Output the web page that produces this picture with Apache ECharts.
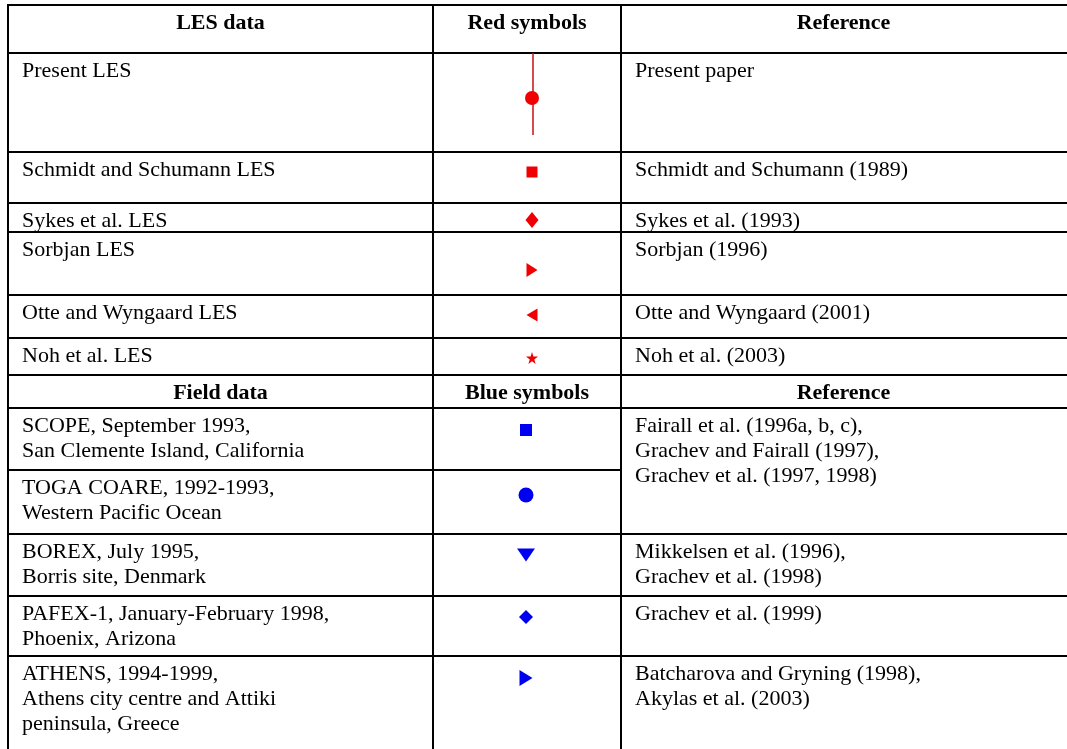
<!DOCTYPE html>
<html><head><meta charset="utf-8">
<script src="https://cdn.jsdelivr.net/npm/echarts@6/dist/echarts.min.js"></script>
<style>html,body{margin:0;padding:0;background:#fff;}#c{width:1067px;height:749px;}</style>
</head><body><div id="c"></div>
<script>
// ---------------- data ----------------
const lesHeader = ['LES data', 'Red symbols', 'Reference'];
const lesData = ['Present LES', 'Schmidt and Schumann LES', 'Sykes et al. LES', 'Sorbjan LES', 'Otte and Wyngaard LES', 'Noh et al. LES'];
const redSymbols = ['circle-bar', 'square', 'diamond', 'triangle-right', 'triangle-left', 'star'];
const lesRefs = ['Present paper', 'Schmidt and Schumann (1989)', 'Sykes et al. (1993)', 'Sorbjan (1996)', 'Otte and Wyngaard (2001)', 'Noh et al. (2003)'];
const fieldHeader = ['Field data', 'Blue symbols', 'Reference'];
const fieldData = [
  ['SCOPE, September 1993,', 'San Clemente Island, California'],
  ['TOGA COARE, 1992-1993,', 'Western Pacific Ocean'],
  ['BOREX, July 1995,', 'Borris site, Denmark'],
  ['PAFEX-1, January-February 1998,', 'Phoenix, Arizona'],
  ['ATHENS, 1994-1999,', 'Athens city centre and Attiki', 'peninsula, Greece']
];
const blueSymbols = ['square', 'circle', 'triangle-down', 'diamond', 'triangle-right'];
const fieldRefs = [
  ['Fairall et al. (1996a, b, c),', 'Grachev and Fairall (1997),', 'Grachev et al. (1997, 1998)'],
  ['Mikkelsen et al. (1996),', 'Grachev et al. (1998)'],
  ['Grachev et al. (1999)'],
  ['Batcharova and Gryning (1998),', 'Akylas et al. (2003)']
];
const fieldRefSpan = [2, 1, 1, 1];

// ---------------- layout / style ----------------
const W = 1067, H = 749;
const colEdges = [8, 433, 621, 1069];
const rowEdges = [5, 53, 152, 203, 232, 295, 338, 375, 408, 470, 534, 596, 656, 760];
const FONT = '"Liberation Serif","Times New Roman",serif';
const FS = 22, LH = 25, PADX = 14, PADY = 6;
const RED = '#f00000', BLUE = '#0000f0';
const redX = 532, blueX = 526;
const redOffsets = [45, 20, 17, 38, 20, 20];   // symbol centre below row top
const blueOffsets = [22, 25, 21, 21, 22];
const errBar = [53, 135];
const STAR = 'path://M50,0 L61,35 L98,35 L68,57 L79,91 L50,70 L21,91 L32,57 L2,35 L39,35 Z';
const shapeStyle = {
  'circle-bar': {symbol: 'circle', size: 14, rot: 0},
  'circle': {symbol: 'circle', size: 15, rot: 0},
  'square': {symbol: 'rect', size: 11, rot: 0},
  'diamond': {symbol: 'diamond', size: [13, 16], rot: 0},
  'triangle-right': {symbol: 'triangle', size: [14, 11], rot: -90},
  'triangle-left': {symbol: 'triangle', size: [13, 11], rot: 90},
  'triangle-down': {symbol: 'triangle', size: [18, 13], rot: 180},
  'star': {symbol: STAR, size: 12, rot: 0}
};
const blueSizeOverride = {'square': 12, 'diamond': [14, 14], 'triangle-right': [16, 13]};

// ---------------- build cells ----------------
const cells = [];
function addCell(r0, r1, c, lines, bold) { cells.push({r0, r1, c, lines, bold: !!bold}); }
lesHeader.forEach((t, c) => addCell(0, 1, c, [t], true));
lesData.forEach((t, i) => { addCell(1 + i, 2 + i, 0, [t]); addCell(1 + i, 2 + i, 1, []); addCell(1 + i, 2 + i, 2, [lesRefs[i]]); });
fieldHeader.forEach((t, c) => addCell(7, 8, c, [t], true));
fieldData.forEach((ls, i) => { addCell(8 + i, 9 + i, 0, ls); addCell(8 + i, 9 + i, 1, []); });
let rr = 8;
fieldRefs.forEach((ls, i) => { addCell(rr, rr + fieldRefSpan[i], 2, ls); rr += fieldRefSpan[i]; });

// border segments derived from cell spans
const segs = [];
for (let i = 0; i < rowEdges.length; i++) {
  for (let c = 0; c < 3; c++) {
    const crossed = cells.some(k => k.c === c && k.r0 < i && k.r1 > i);
    if (!crossed) segs.push([colEdges[c], rowEdges[i], colEdges[c + 1], rowEdges[i]]);
  }
}
colEdges.forEach(x => segs.push([x, rowEdges[0], x, rowEdges[rowEdges.length - 1]]));

// symbols
const symData = [];
redSymbols.forEach((s, i) => {
  const st = shapeStyle[s];
  symData.push({value: [redX, rowEdges[1 + i] + redOffsets[i]], symbol: st.symbol, symbolSize: st.size, symbolRotate: st.rot, itemStyle: {color: RED, opacity: 1}});
});
blueSymbols.forEach((s, i) => {
  const st = shapeStyle[s];
  symData.push({value: [blueX, rowEdges[8 + i] + blueOffsets[i]], symbol: st.symbol, symbolSize: blueSizeOverride[s] || st.size, symbolRotate: st.rot, itemStyle: {color: BLUE, opacity: 1}});
});

const chart = echarts.init(document.getElementById('c'), null, {renderer: 'canvas'});
chart.setOption({
  animation: false,
  backgroundColor: '#fff',
  grid: {left: 0, right: 0, top: 0, bottom: 0},
  xAxis: {type: 'value', min: 0, max: W, show: false},
  yAxis: {type: 'value', min: 0, max: H, inverse: true, show: false},
  series: [
    {
      type: 'custom', coordinateSystem: 'cartesian2d', silent: true, z: 2,
      data: cells.map((_, i) => [i]),
      renderItem: function (params, api) {
        const k = cells[api.value(0)];
        const x0 = colEdges[k.c], x1 = Math.min(colEdges[k.c + 1], 1066), y0 = rowEdges[k.r0];
        const children = k.lines.map((t, j) => {
          const tx = k.bold ? (x0 + x1) / 2 : x0 + PADX;
          const p = api.coord([tx, y0 + PADY + LH / 2 + j * LH]);
          return {type: 'text', style: {text: t, x: p[0], y: p[1], fill: '#000',
            font: (k.bold ? 'bold ' : '') + FS + 'px ' + FONT,
            textAlign: k.bold ? 'center' : 'left', textVerticalAlign: 'middle'}};
        });
        return {type: 'group', children};
      }
    },
    {
      type: 'custom', coordinateSystem: 'cartesian2d', silent: true, z: 3,
      data: segs.map((_, i) => [i]),
      renderItem: function (params, api) {
        const s = segs[api.value(0)];
        const a = api.coord([s[0], s[1]]), b = api.coord([s[2], s[3]]);
        return {type: 'line', shape: {x1: a[0], y1: a[1], x2: b[0], y2: b[1]},
          style: {stroke: '#000', lineWidth: 2, lineCap: 'square'}};
      }
    },
    {
      type: 'custom', coordinateSystem: 'cartesian2d', silent: true, z: 4,
      data: [[0]],
      renderItem: function (params, api) {
        const a = api.coord([redX + 1, errBar[0]]), b = api.coord([redX + 1, errBar[1]]);
        return {type: 'line', shape: {x1: a[0], y1: a[1], x2: b[0], y2: b[1]},
          style: {stroke: '#c81010', lineWidth: 1.5}};
      }
    },
    {
      type: 'scatter', silent: true, z: 5,
      data: symData
    }
  ]
});
</script>
</body></html>
